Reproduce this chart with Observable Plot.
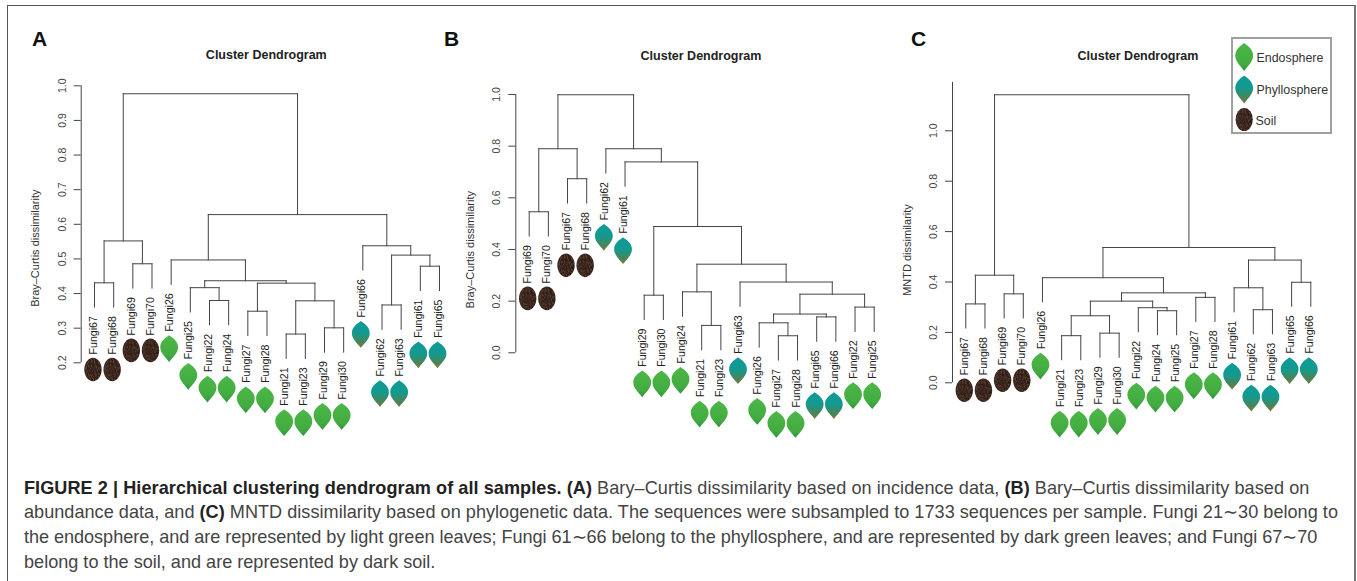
<!DOCTYPE html>
<html>
<head>
<meta charset="utf-8">
<script src="https://cdn.jsdelivr.net/npm/d3@7"></script>
<script src="https://cdn.jsdelivr.net/npm/@observablehq/plot@0.6"></script>
<style>
html,body{margin:0;padding:0;background:#fff;}
#page{position:relative;width:1357px;height:581px;overflow:hidden;font-family:"Liberation Sans",Arial,sans-serif;color:#222;}
#frame{position:absolute;left:7px;top:5px;width:1349px;height:600px;border:1.5px solid #555;border-right:2px solid #777;box-sizing:border-box;}
.letter{position:absolute;font-weight:bold;font-size:21px;line-height:21px;color:#111;}
.title{position:absolute;font-weight:bold;font-size:12.5px;line-height:14px;transform:translateX(-50%);color:#222;white-space:nowrap;}
.panel{position:absolute;left:0;top:0;}
.panel svg{overflow:visible;}
#legend{position:absolute;left:1231px;top:37px;width:101px;height:97px;border:2px solid #a0a0a0;box-sizing:border-box;background:#fff;}
.lg{position:absolute;font-size:12.4px;line-height:14px;color:#333;white-space:nowrap;}
#legend svg{position:absolute;overflow:visible;left:0;top:0;}
#caption{position:absolute;left:24px;top:475.5px;font-size:18.1px;line-height:24.7px;color:#444;white-space:nowrap;}
#caption b{color:#222;}
</style>
</head>
<body>
<div id="page">
  <div id="frame"></div>
  <div class="letter" style="left:32px;top:28px">A</div>
  <div class="letter" style="left:444px;top:28px">B</div>
  <div class="letter" style="left:911px;top:28px">C</div>
  <div class="title" style="left:266.3px;top:48px">Cluster Dendrogram</div>
  <div class="title" style="left:701px;top:49px">Cluster Dendrogram</div>
  <div class="title" style="left:1138px;top:49px">Cluster Dendrogram</div>
  <div id="plots"></div>
  <div id="legend"></div>
  <div id="caption">
    <div style="letter-spacing:.06px"><b>FIGURE 2 | Hierarchical clustering dendrogram of all samples. (A)</b> Bary–Curtis dissimilarity based on incidence data, <b>(B)</b> Bary–Curtis dissimilarity based on</div>
    <div style="letter-spacing:.025px">abundance data, and <b>(C)</b> MNTD dissimilarity based on phylogenetic data. The sequences were subsampled to 1733 sequences per sample. Fungi 21∼30 belong to</div>
    <div style="letter-spacing:-.04px">the endosphere, and are represented by light green leaves; Fungi 61∼66 belong to the phyllosphere, and are represented by dark green leaves; and Fungi 67∼70</div>
    <div>belong to the soil, and are represented by dark soil.</div>
  </div>
</div>
<script>
// Leaf order along each dendrogram (sample numbers)
const leavesA = [67,68,69,70,26,25,22,24,27,28,21,23,29,30,66,62,63,61,65];
const leavesB = [69,70,67,68,62,61,29,30,24,21,23,63,26,27,28,65,66,22,25];
const leavesC = [67,68,69,70,26,21,23,29,30,22,24,25,27,28,61,62,63,65,66];

// Merges: [left child, right child, height]. A child is a sample number or a nested merge.
const treeA = [
  [[67,68,0.431],[69,70,0.486],0.552],
  [
    [26,[[25,[22,24,0.380],0.417],[[27,28,0.349],[[21,23,0.283],[29,30,0.301],0.379],0.430],0.437],0.497],
    [66,[[62,63,0.367],[61,65,0.479],0.511],0.538],
    0.628
  ],
  0.977
];
const treeB = [
  [[69,70,0.546],[67,68,0.674],0.790],
  [62,[61,[[29,30,0.223],[[24,[21,23,0.106],0.236],[63,[[[26,[27,28,0.066],0.116],[65,66,0.139],0.150],[22,25,0.177],0.227],0.274],0.343],0.489],0.739],0.790],
  0.999
];
const treeC = [
  [[67,68,0.313],[69,70,0.353],0.427],
  [
    [26,[[[[21,23,0.187],[29,30,0.197],0.266],[22,[24,25,0.286],0.298],0.324],[27,28,0.339],0.357],0.417],
    [[61,[62,63,0.290],0.377],[65,66,0.399],0.487],
    0.537
  ],
  1.143
];

const hangs = {A:0.0703, B:0.0942, C:0.0955};
const ticksA = [0.2,0.3,0.4,0.5,0.6,0.7,0.8,0.9,1.0];
const ticksB = [0,0.2,0.4,0.6,0.8,1.0];
const ticksC = [0,0.2,0.4,0.6,0.8,1.0];
const yLabelA = "Bray–Curtis dissimilarity";
const yLabelB = "Bray–Curtis dissimilarity";
const yLabelC = "MNTD dissimilarity";
const legendItems = ["Endosphere","Phyllosphere","Soil"];

const compartment = n => n <= 30 ? "Endosphere" : n <= 66 ? "Phyllosphere" : "Soil";

// Custom leaf symbol for Plot.dot (tip at the bottom, little stalk on top)
const leafSymbol = {
  draw(ctx, size) {
    const s = Math.sqrt(size) / 24; // r=13.54 -> about 1
    ctx.moveTo(0, -13.4*s);
    ctx.bezierCurveTo(3*s, -11*s, 8.9*s, -8*s, 8.9*s, -1.5*s);
    ctx.bezierCurveTo(8.9*s, 4.5*s, 4*s, 8.5*s, 0, 13.4*s);
    ctx.bezierCurveTo(-4*s, 8.5*s, -8.9*s, 4.5*s, -8.9*s, -1.5*s);
    ctx.bezierCurveTo(-8.9*s, -8*s, -3*s, -11*s, 0, -13.4*s);
    ctx.closePath();
  }
};
const soilSymbol = {
  draw(ctx, size) {
    const s = Math.sqrt(size) / 24, a = 8.7*s, b = 11.8*s, k = 0.5523;
    ctx.moveTo(-a, 0);
    ctx.bezierCurveTo(-a, -k*b, -k*a, -b, 0, -b);
    ctx.bezierCurveTo(k*a, -b, a, -k*b, a, 0);
    ctx.bezierCurveTo(a, k*b, k*a, b, 0, b);
    ctx.bezierCurveTo(-k*a, b, -a, k*b, -a, 0);
    ctx.closePath();
  }
};
const defsXml = `
  <linearGradient id="gEndo" x1="0" y1="0" x2="0" y2="1">
    <stop offset="0" stop-color="#4cb848"/><stop offset="0.75" stop-color="#42ab40"/><stop offset="1" stop-color="#2f9440"/>
  </linearGradient>
  <linearGradient id="gPhyl" x1="0" y1="0" x2="0" y2="1">
    <stop offset="0" stop-color="#0f9a98"/><stop offset="0.45" stop-color="#129a90"/><stop offset="0.8" stop-color="#4a8458"/><stop offset="1" stop-color="#7a7a3a"/>
  </linearGradient>
  <filter id="fSoil" x="0" y="0" width="100%" height="100%">
    <feTurbulence type="fractalNoise" baseFrequency="0.7" numOctaves="2" seed="4"/>
    <feColorMatrix values="0 0 0 0 0.36  0 0 0 0 0.23  0 0 0 0 0.16  1.6 0 0 0 -0.66"/>
  </filter>
  <pattern id="gSoil" patternUnits="userSpaceOnUse" width="40" height="40">
    <rect width="40" height="40" fill="#2a1710"/>
    <rect width="40" height="40" filter="url(#fSoil)"/>
  </pattern>`;
const makeDefs = () => {
  const d = document.createElementNS("http://www.w3.org/2000/svg","defs");
  d.innerHTML = defsXml;
  return d;
};

// Layout of a tree: x of each node is the mean of its two children (as in R's hclust plot)
function layout(tree, leaves, hang) {
  const pos = new Map(leaves.map((n,i)=>[n,i+1]));
  const links = [], ends = [];
  function walk(node) {
    if (typeof node === "number") return {x: pos.get(node), h: null, n: node};
    const [a,b,h] = node;
    const ca = walk(a), cb = walk(b);
    const x = (ca.x + cb.x) / 2;
    links.push({x1: ca.x, x2: cb.x, y1: h, y2: h});
    for (const c of [ca,cb]) {
      const bottom = c.h === null ? h - hang : c.h;
      links.push({x1: c.x, x2: c.x, y1: h, y2: bottom});
      if (c.h === null) ends.push({x: c.x, y: bottom, n: c.n, group: compartment(c.n)});
    }
    return {x, h};
  }
  walk(tree);
  return {links, ends};
}

const lineColor = "#444";
const panels = [
  {tree:treeA, leaves:leavesA, hang:hangs.A, ticks:ticksA, label:yLabelA, labelAt:0.531, labelDx:-45.7,
   fmt:d3.format(".1f"), yDomain:[0.2,1.0], yRange:[362.3,85.3], axisTo:[0.2,1.0],
   left:80.7, right:439, axisLeaf:1-(94-80.7)/19.17},
  {tree:treeB, leaves:leavesB, hang:hangs.B, ticks:ticksB, label:yLabelB, labelAt:0.399, labelDx:-45.3,
   fmt:d3.format(".1f"), yDomain:[0,1.0], yRange:[352.3,94], axisTo:[0,1.0],
   left:515.3, right:873.7, axisLeaf:1-(528.7-515.3)/19.17},
  {tree:treeC, leaves:leavesC, hang:hangs.C, ticks:ticksC, label:yLabelC, labelAt:0.527, labelDx:-45,
   fmt:d3.format(".1f"), yDomain:[0,1.0], yRange:[382.3,130.3], axisTo:[0,1.192],
   left:952, right:1310.3, axisLeaf:1-(965.3-952)/19.17}
];

const W = 1357, H = 445;
const plots = document.getElementById("plots");
for (const p of panels) {
  const {links, ends} = layout(p.tree, p.leaves, p.hang);
  const leafEnds = ends.filter(d => d.group !== "Soil");
  const soilEnds = ends.filter(d => d.group === "Soil");
  const chart = Plot.plot({
    width: W, height: H,
    marginLeft: p.left, marginRight: W - p.right, marginTop: 10, marginBottom: 10,
    style: {fontFamily: '"Liberation Sans",Arial,sans-serif', background: "transparent"},
    x: {domain: [p.axisLeaf, p.leaves.length], axis: null},
    y: {domain: p.yDomain, range: p.yRange},
    marks: [
      makeDefs,
      Plot.ruleX([0], {x: () => p.axisLeaf, y1: p.axisTo[0], y2: p.axisTo[1], stroke: lineColor, strokeWidth: 1}),
      Plot.axisY({ticks: p.ticks, tickFormat: p.fmt, tickSize: 7, tickPadding: 8.5, tickRotate: -90,
                  label: null, fontSize: 10.5, stroke: lineColor, fill: "#444"}),
      Plot.text([p.label], {y: () => p.labelAt, frameAnchor: "left", dx: p.labelDx, rotate: -90,
                  text: d => d, fontSize: 11, fill: "#333", textAnchor: "middle"}),
      Plot.link(links, {x1:"x1", x2:"x2", y1:"y1", y2:"y2", stroke: lineColor, strokeWidth: 1, strokeLinecap:"square"}),
      Plot.text(ends, {x:"x", y:"y", text: d => "Fungi"+d.n, rotate:-90, textAnchor:"end", dy: 9, dx: -1.3,
                  fontSize: 10.6, fill: "#222"}),
      Plot.dot(leafEnds.filter(d=>d.group==="Endosphere"), {x:"x", y:"y", dy:64.3, dx:-2, r:13.54, symbol:leafSymbol, fill:"url(#gEndo)", stroke:"none"}),
      Plot.dot(leafEnds.filter(d=>d.group==="Phyllosphere"), {x:"x", y:"y", dy:64.3, dx:-2, r:13.54, symbol:leafSymbol, fill:"url(#gPhyl)", stroke:"none"}),
      Plot.dot(soilEnds, {x:"x", y:"y", dy:62.3, dx:-1.5, r:13.54, symbol:soilSymbol, fill:"url(#gSoil)", stroke:"none"})
    ]
  });
  chart.classList.add("panel");
  chart.style.position = "absolute";
  chart.style.left = "0"; chart.style.top = "0";
  plots.appendChild(chart);
}

// Legend (coordinates inside the box)
const legend = document.getElementById("legend");
const leafPath = "M0,-14C3,-11.5 8.9,-8 8.9,-1.5C8.9,4.5 4,8.5 0,14C-4,8.5 -8.9,4.5 -8.9,-1.5C-8.9,-8 -3,-11.5 0,-14Z";
const legendGlyphs = {
  Endosphere: {fill:"url(#gEndo)", path:leafPath, cy:18, ty:11.5, tx:23.5},
  Phyllosphere: {fill:"url(#gPhyl)", path:leafPath, cy:50.5, ty:44, tx:23.5},
  Soil: {fill:"url(#gSoil)", path:"M-8.6,0A8.6,11.5 0 1 1 8.6,0A8.6,11.5 0 1 1 -8.6,0Z", cy:80.5, ty:75, tx:22.5}
};
const lsvg = document.createElementNS("http://www.w3.org/2000/svg","svg");
lsvg.setAttribute("width", 98); lsvg.setAttribute("height", 94);
for (const name of legendItems) {
  const g = legendGlyphs[name];
  const path = document.createElementNS("http://www.w3.org/2000/svg","path");
  path.setAttribute("d", g.path);
  path.setAttribute("fill", g.fill);
  path.setAttribute("transform", `translate(11.2,${g.cy})`);
  lsvg.appendChild(path);
  const t = document.createElement("div");
  t.className = "lg"; t.textContent = name;
  t.style.left = g.tx + "px"; t.style.top = g.ty + "px";
  legend.appendChild(t);
}
legend.appendChild(lsvg);
</script>
</body>
</html>
